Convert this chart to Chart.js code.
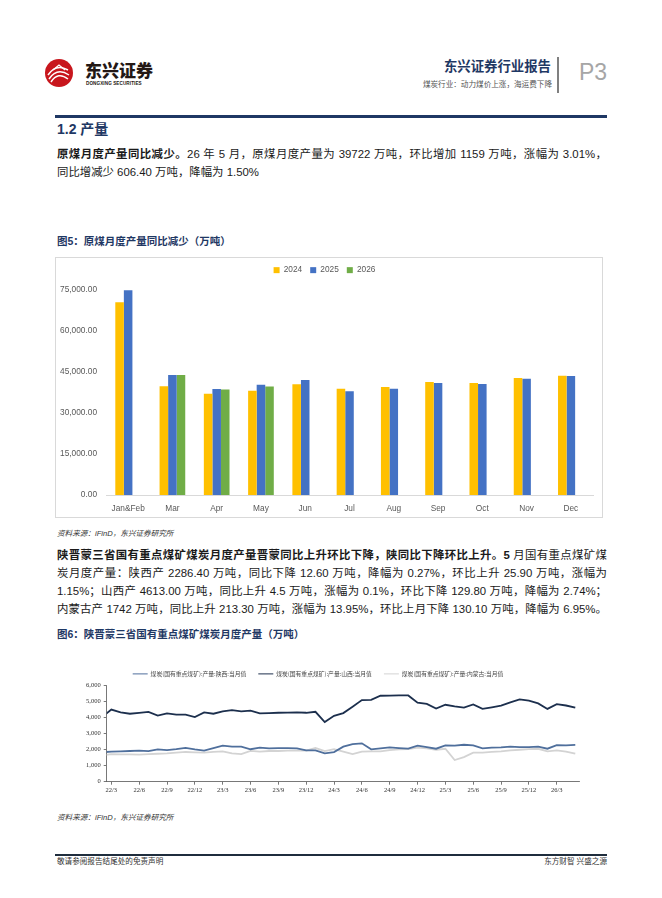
<!DOCTYPE html>
<html>
<head>
<meta charset="utf-8">
<script src="https://cdn.jsdelivr.net/npm/chart.js@4.4.1/dist/chart.umd.min.js"></script>
<style>
  body { margin: 0; background: #fff; width: 662px; height: 898px; position: relative; overflow: hidden;
         font-family: "Liberation Sans", "Noto Sans CJK SC", sans-serif; color: #1a1a1a; }
  .abs { position: absolute; }
  .navy { color: #1F3864; }
  .para { left: 57px; width: 550px; font-size: 11.4px; line-height: 18px; height: 18px; }
  .just { text-align: justify; text-align-last: justify; }
  .src { left: 57px; font-size: 7.6px; font-style: italic; color: #333; line-height: 12px; }
  .figtitle { left: 57px; font-size: 10.5px; font-weight: bold; line-height: 14px; }
</style>
</head>
<body>

<!-- header -->
<svg class="abs" style="left:44px;top:58px" width="30" height="30" viewBox="0 0 30 30">
  <circle cx="15" cy="15" r="14" fill="#C8161D"/>
  <path d="M5 21 Q13 9 25 17" stroke="#fff" stroke-width="1.5" fill="none"/>
  <path d="M7 24 Q14 13 24 21" stroke="#fff" stroke-width="1.5" fill="none"/>
  <path d="M4 17 Q12 5 24 12" stroke="#fff" stroke-width="1.5" fill="none"/>
  <path d="M9 12 L15 7 L21 12" stroke="#fff" stroke-width="1.3" fill="none"/>
</svg>
<div class="abs" style="left:85px;top:60px;font-size:17px;font-weight:900;line-height:20px;color:#231815;font-family:'Noto Sans CJK SC';">东兴证券</div>
<div class="abs" style="left:86px;top:81px;font-size:4.6px;font-weight:bold;line-height:6px;color:#231815;letter-spacing:0.1px;">DONGXING SECURITIES</div>

<div class="abs navy" style="left:400px;top:58px;width:151px;text-align:right;font-size:13.4px;font-weight:bold;line-height:17px;">东兴证券行业报告</div>
<div class="abs" style="left:380px;top:79px;width:172px;text-align:right;font-size:7.6px;line-height:10px;color:#555;font-family:'Noto Sans CJK SC';">煤炭行业：动力煤价上涨，海运费下降</div>
<div class="abs" style="left:557px;top:57px;width:1.5px;height:36px;background:#808080;"></div>
<div class="abs" style="left:579px;top:59px;font-size:23px;line-height:26px;color:#A6A6A6;">P3</div>
<div class="abs" style="left:55px;top:115px;width:552px;height:2.5px;background:#1F3864;"></div>

<!-- section 1.2 -->
<div class="abs navy" style="left:57px;top:120px;font-size:14px;font-weight:bold;line-height:18px;">1.2 产量</div>
<div class="abs para just" style="top:145px;"><b>原煤月度产量同比减少。</b>26 年 5 月，原煤月度产量为 39722 万吨，环比增加 1159 万吨，涨幅为 3.01%，</div>
<div class="abs para" style="top:163px;">同比增减少 606.40 万吨，降幅为 1.50%</div>

<div class="abs figtitle navy" style="top:234px;">图5：原煤月度产量同比减少（万吨）</div>
<div class="abs" style="left:55px;top:257px;width:548px;height:261px;border:1px solid #D9D9D9;box-sizing:border-box;">
  <canvas id="barChart" width="546" height="259"></canvas>
</div>
<div class="abs src" style="top:528px;">资料来源：iFinD，东兴证券研究所</div>

<div class="abs para just" style="top:546px;"><b>陕晋蒙三省国有重点煤矿煤炭月度产量晋蒙同比上升环比下降，陕同比下降环比上升。5</b> 月国有重点煤矿煤</div>
<div class="abs para just" style="top:564px;">炭月度产量：陕西产 2286.40 万吨，同比下降 12.60 万吨，降幅为 0.27%，环比上升 25.90 万吨，涨幅为</div>
<div class="abs para just" style="top:582px;">1.15%；山西产 4613.00 万吨，同比上升 4.5 万吨，涨幅为 0.1%，环比下降 129.80 万吨，降幅为 2.74%；</div>
<div class="abs para just" style="top:600px;">内蒙古产 1742 万吨，同比上升 213.30 万吨，涨幅为 13.95%，环比上月下降 130.10 万吨，降幅为 6.95%。</div>

<div class="abs figtitle navy" style="top:627px;">图6：陕晋蒙三省国有重点煤矿煤炭月度产量（万吨）</div>
<canvas id="lineChart" class="abs" style="left:57px;top:660px;" width="550" height="140"></canvas>
<div class="abs src" style="top:812px;">资料来源：iFinD，东兴证券研究所</div>

<!-- footer -->
<div class="abs" style="left:55px;top:854px;width:552px;height:1.5px;background:#1F2D3D;"></div>
<div class="abs" style="left:57px;top:856px;font-size:7.6px;line-height:12px;color:#333;">敬请参阅报告结尾处的免责声明</div>
<div class="abs" style="left:500px;top:856px;width:107px;text-align:right;font-size:7.6px;line-height:12px;color:#333;">东方财智 兴盛之源</div>

<script>
// fig 5: raw coal monthly output
const barCategories = ["Jan&Feb", "Mar", "Apr", "May", "Jun", "Jul", "Aug", "Sep", "Oct", "Nov", "Dec"];
const output2024 = [70490, 39760, 37070, 38170, 40490, 38900, 39510, 41340, 40980, 42800, 43660];
const output2025 = [74950, 43900, 38780, 40330, 42070, 37930, 38900, 40980, 40610, 42560, 43540];
const output2026 = [null, 43880, 38560, 39720, null, null, null, null, null, null, null];
const barYTicks = [0, 15000, 30000, 45000, 60000, 75000];

// fig 6: state-owned key mines, monthly output by province
const lineMonths = [
  "22/2", "22/3", "22/4", "22/5", "22/6", "22/7", "22/8", "22/9", "22/10", "22/11", "22/12",
  "23/1", "23/2", "23/3", "23/4", "23/5", "23/6", "23/7", "23/8", "23/9", "23/10", "23/11", "23/12",
  "24/1", "24/2", "24/3", "24/4", "24/5", "24/6", "24/7", "24/8", "24/9", "24/10", "24/11", "24/12",
  "25/1", "25/2", "25/3", "25/4", "25/5", "25/6", "25/7", "25/8", "25/9", "25/10", "25/11", "25/12",
  "26/1", "26/2", "26/3", "26/4", "26/5"
];
const shaanxiOutput = [
  1830, 1870, 1890, 1910, 1930, 1900, 2010, 1970, 2030, 2110, 2010,
  1930, 2095, 2240, 2180, 2180, 2020, 2116, 2075, 2095, 2095, 2075, 1950,
  1950, 1760, 1840, 2180, 2345, 2386, 2013, 2075, 2137, 2095, 2054, 2240,
  2158, 2054, 2262, 2240, 2299, 2262, 2075, 2116, 2137, 2180, 2158, 2150,
  2180, 2054, 2270, 2260.5, 2286.4
];
const shanxiOutput = [
  4030, 4490, 4320, 4230, 4290, 4350, 4110, 4250, 4170, 4170, 4020,
  4310, 4230, 4380, 4460, 4380, 4420, 4250, 4270, 4290, 4300, 4310, 4290,
  4350, 3710, 4100, 4270, 4670, 5080, 5090, 5350, 5360, 5370, 5370, 4920,
  4840, 4550, 4790, 4690, 4608.5, 4810, 4530, 4630, 4730, 4940, 5120, 5040,
  4870, 4530, 4830, 4742.8, 4613
];
const neimengOutput = [
  1640, 1720, 1700, 1700, 1680, 1720, 1740, 1765, 1805, 1850, 1825,
  1805, 1850, 1890, 1765, 1720, 1920, 1870, 1910, 1910, 1930, 1930, 1930,
  2095, 1910, 2030, 1870, 1720, 1870, 1890, 1890, 1970, 2013, 2030, 2116,
  2075, 1990, 2050, 1350, 1528.7, 1805, 1805, 1850, 1890, 1950, 1990, 2030,
  2050, 1890, 1950, 1872.1, 1742
];
const lineTickMonths = ["22/3", "22/6", "22/9", "22/12", "23/3", "23/6", "23/9", "23/12",
  "24/3", "24/6", "24/9", "24/12", "25/3", "25/6", "25/9", "25/12", "26/3"];
const lineYTicks = [0, 1000, 2000, 3000, 4000, 5000, 6000];

// legend height is set by hand so the plot sits where the page has it
function legendHeight(h) {
  return {
    id: "legendHeight",
    beforeInit(chart) {
      const fit = chart.legend.fit;
      chart.legend.fit = function () {
        fit.call(this);
        this.height = h;
      };
    },
  };
}

function renderBarChart() {
  const ctx = document.getElementById("barChart").getContext("2d");
  const axisFont = { family: "'Liberation Sans', sans-serif", size: 8.3 };

  new Chart(ctx, {
    type: "bar",
    data: {
      labels: barCategories,
      datasets: [
        { label: "2024", data: output2024, backgroundColor: "#FFC000" },
        { label: "2025", data: output2025, backgroundColor: "#4472C4" },
        { label: "2026", data: output2026, backgroundColor: "#70AD47" },
      ],
    },
    options: {
      responsive: false,
      animation: false,
      layout: { padding: { left: 0, right: 9, top: 0, bottom: 0 } },
      datasets: { bar: { categoryPercentage: 0.58, barPercentage: 1.0 } },
      plugins: {
        tooltip: { enabled: false },
        legend: {
          display: true,
          labels: { color: "#595959", font: axisFont, boxWidth: 6, boxHeight: 6, padding: 8 },
        },
      },
      scales: {
        x: {
          grid: { display: false, drawTicks: false },
          border: { display: true, color: "#D9D9D9" },
          ticks: { color: "#595959", font: axisFont, padding: 9 },
          afterFit: (axis) => { axis.height = 22; },
        },
        y: {
          min: 0,
          max: 75000,
          grid: { display: false, drawTicks: false },
          border: { display: false },
          afterBuildTicks: (axis) => { axis.ticks = barYTicks.map((v) => ({ value: v })); },
          ticks: {
            color: "#595959",
            font: axisFont,
            padding: 9,
            callback: (v) => v.toLocaleString("en-US", { minimumFractionDigits: 2, maximumFractionDigits: 2 }),
          },
          afterFit: (axis) => { axis.width = 50; },
        },
      },
    },
    plugins: [legendHeight(32)],
  });
}

function renderLineChart() {
  const ctx = document.getElementById("lineChart").getContext("2d");
  const serif = { family: "'Liberation Serif', 'Noto Sans CJK SC', serif", size: 6.5 };
  const toPoints = (arr) => arr.map((v, i) => ({ x: i, y: v }));

  new Chart(ctx, {
    type: "line",
    data: {
      datasets: [
        { label: "煤炭(国有重点煤矿):产量:陕西:当月值", data: toPoints(shaanxiOutput), borderColor: "#4F6F9C" },
        { label: "煤炭(国有重点煤矿):产量:山西:当月值", data: toPoints(shanxiOutput), borderColor: "#1C2F4D" },
        { label: "煤炭(国有重点煤矿):产量:内蒙古:当月值", data: toPoints(neimengOutput), borderColor: "#D3D3D3" },
      ],
    },
    options: {
      responsive: false,
      animation: false,
      layout: { padding: { left: 0, right: 28, top: -1, bottom: 0 } },
      elements: {
        line: { borderWidth: 1.8, tension: 0 },
        point: { radius: 0 },
      },
      plugins: {
        tooltip: { enabled: false },
        legend: {
          display: true,
          labels: {
            color: "#444",
            font: { family: "'Noto Sans CJK SC', sans-serif", size: 5.8 },
            usePointStyle: true,
            pointStyle: "line",
            pointStyleWidth: 15,
            padding: 12,
          },
        },
      },
      scales: {
        x: {
          type: "linear",
          min: 0.5,
          max: 51.4,
          grid: { display: true, drawOnChartArea: false, drawTicks: true, tickLength: 3, color: "#555", lineWidth: 0.8 },
          border: { display: true, color: "#555", width: 0.8 },
          afterBuildTicks: (axis) => {
            axis.ticks = lineTickMonths.map((m) => ({ value: lineMonths.indexOf(m) }));
          },
          ticks: { color: "#333", font: serif, padding: 2, maxRotation: 0, callback: (v) => lineMonths[v] },
          afterFit: (axis) => { axis.height = 18.3; },
        },
        y: {
          min: 0,
          max: 6000,
          grid: { display: true, drawOnChartArea: false, drawTicks: true, tickLength: 3, color: "#555", lineWidth: 0.8 },
          border: { display: true, color: "#555", width: 0.8 },
          afterBuildTicks: (axis) => { axis.ticks = lineYTicks.map((v) => ({ value: v })); },
          ticks: { color: "#333", font: serif, padding: 3 },
          afterFit: (axis) => { axis.width = 49.7; },
        },
      },
    },
    plugins: [legendHeight(26.3)],
  });
}

document.addEventListener("DOMContentLoaded", function () {
  renderBarChart();
  renderLineChart();
});
</script>
</body>
</html>
